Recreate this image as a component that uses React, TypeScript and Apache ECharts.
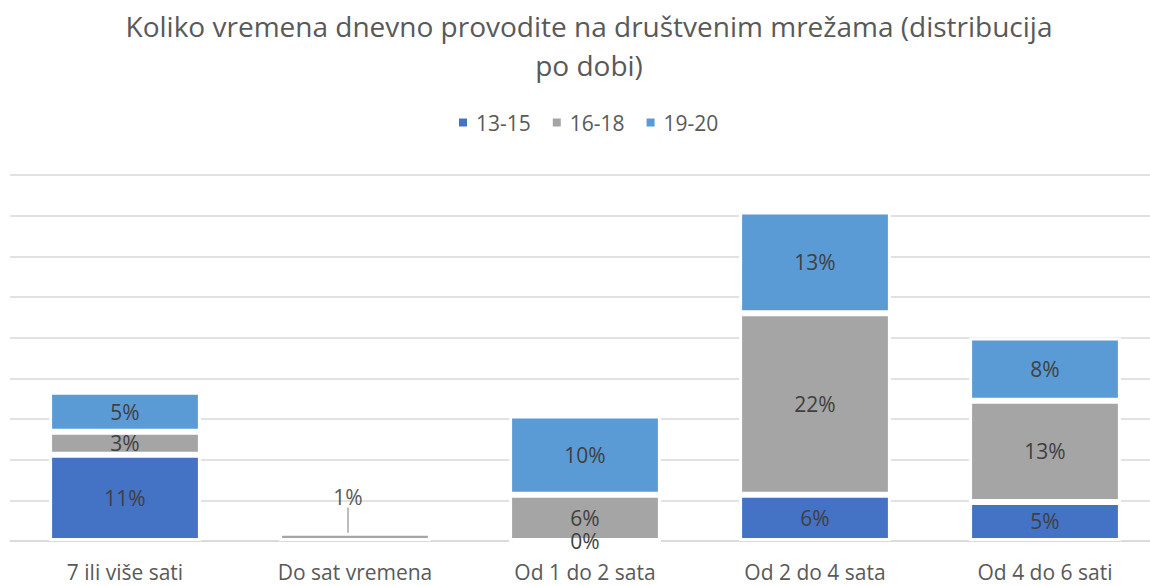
import React, { useEffect, useRef } from "react";
import * as echarts from "echarts";

const categories = ["7 ili više sati", "Do sat vremena", "Od 1 do 2 sata", "Od 2 do 4 sata", "Od 4 do 6 sati"];
const seriesNames = ["13-15", "16-18", "19-20"];
// bar heights (percentage units, gridline every 5)
const values13_15: (number | string)[] = [10.6, "-", 0, 5.7, 4.8];
const values16_18: (number | string)[] = [2.83, 1.0, 5.7, 22.3, 12.45];
const values19_20: (number | string)[] = [4.93, "-", 9.73, 12.5, 7.76];
// printed data labels
const labels13_15: (number | null)[] = [11, null, 0, 6, 5];
const labels16_18: (number | null)[] = [3, 1, 6, 22, 13];
const labels19_20: (number | null)[] = [5, null, 10, 13, 8];
const colors = ["#4472C4", "#A5A5A5", "#5B9BD5"];

const FONT = "'Open Sans', 'Noto Sans', sans-serif";

export default function App() {
  const ref = useRef<HTMLDivElement>(null);
  useEffect(() => {
    if (!ref.current) return;
    const chart = echarts.init(ref.current, undefined, { renderer: "svg" });
    const vals = [values13_15, values16_18, values19_20];
    const labs = [labels13_15, labels16_18, labels19_20];
    const series = seriesNames.map((name, si) => ({
      name,
      type: "bar",
      stack: "total",
      barWidth: "66%",
      itemStyle: { color: colors[si], borderColor: "#ffffff", borderWidth: 3 },
      label: {
        show: true,
        position: "inside",
        color: "#404040",
        fontSize: 21,
        fontFamily: FONT,
        formatter: (p: any) => {
          const l = labs[si][p.dataIndex];
          return l === null || l === undefined ? "" : `${l}%`;
        },
      },
      labelLayout: (p: any) => (si === 1 && p.dataIndex === 1 ? { dx: -7, dy: -40 } : {}),
      labelLine: { show: false, lineStyle: { color: "#A6A6A6", width: 1.5 } },
      data: vals[si].map((v, di) =>
        si === 1 && di === 1
          ? { value: v, labelLine: { show: true, lineStyle: { color: "#A6A6A6", width: 1.5 } }, label: { color: "#595959" } }
          : v
      ),
    }));
    chart.setOption({
      animation: false,
      backgroundColor: "#ffffff",
      title: {
        text: "Koliko vremena dnevno provodite na društvenim mrežama (distribucija\npo dobi)",
        left: 584,
        top: 1,
        textAlign: "center",
        textStyle: { fontFamily: FONT, fontSize: 28, fontWeight: "normal", color: "#595959", lineHeight: 39, align: "center" },
      },
      legend: {
        data: seriesNames,
        top: 107,
        left: 452,
        icon: "rect",
        itemWidth: 10,
        itemHeight: 10,
        itemGap: 20,
        textStyle: { fontFamily: FONT, fontSize: 21, color: "#595959", padding: [0, 0, 0, 3] },
      },
      grid: { left: 10, right: 0, top: 175, bottom: 45, containLabel: false },
      xAxis: {
        type: "category",
        data: categories,
        axisLine: { lineStyle: { color: "#D9D9D9", width: 1.5 } },
        axisTick: { show: false },
        axisLabel: { fontFamily: FONT, fontSize: 21, color: "#595959", margin: 20, interval: 0 },
      },
      yAxis: {
        type: "value",
        min: 0,
        max: 45,
        interval: 5,
        axisLabel: { show: false },
        axisLine: { show: false },
        axisTick: { show: false },
        splitLine: { lineStyle: { color: "#D9D9D9", width: 1.5 } },
      },
      series,
    });
    return () => chart.dispose();
  }, []);
  return (
    <div style={{ position: "fixed", left: 0, top: 0, width: 1150, height: 586, overflow: "hidden", background: "#fff" }}>
      <div ref={ref} style={{ width: 1160, height: 586 }} />
    </div>
  );
}
